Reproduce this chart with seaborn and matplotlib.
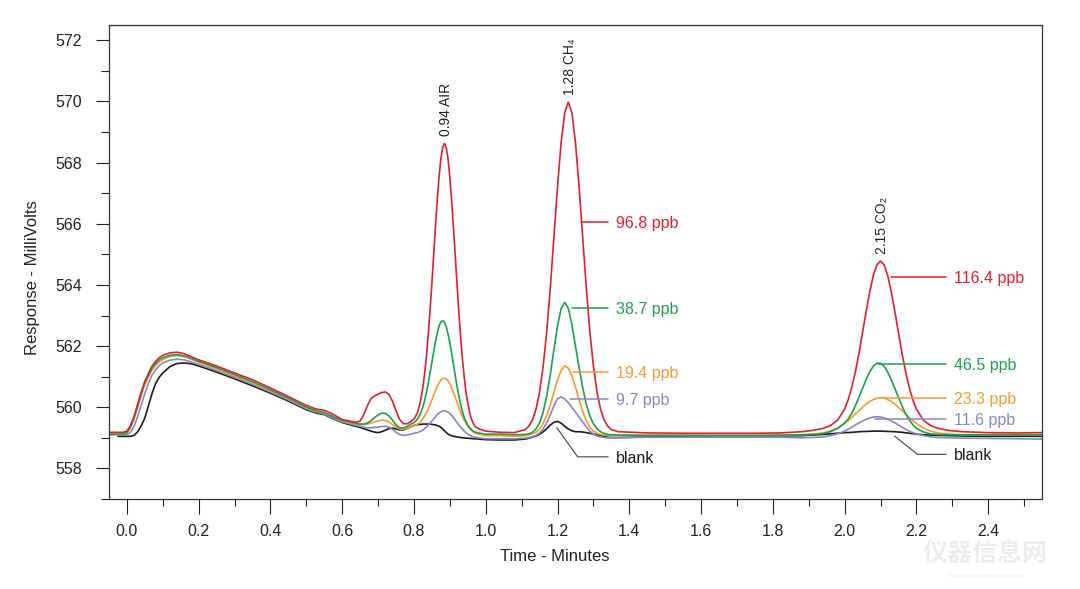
import numpy as np
import pandas as pd
import matplotlib
matplotlib.use("Agg")
import matplotlib.pyplot as plt
import seaborn as sns

# retention time grid (minutes), finer around the peaks
time_min = [
    -0.05, -0.025, -0.01, 0.00, 0.01, 0.02, 0.03, 0.04, 0.05, 0.06, 0.07, 0.08, 0.09, 0.10, 0.12, 0.14, 0.16, 0.18, 0.20,
    0.25, 0.30, 0.35, 0.40, 0.45, 0.50, 0.53, 0.55, 0.57, 0.60, 0.62, 0.64,
    0.65, 0.66, 0.67, 0.68, 0.69, 0.70, 0.71, 0.72, 0.73, 0.74, 0.75, 0.76, 0.77, 0.78, 0.79,
    0.800, 0.805, 0.810, 0.815, 0.820, 0.825, 0.830, 0.835, 0.840, 0.845, 0.850, 0.855, 0.860, 0.865, 0.870, 0.875,
    0.880, 0.885, 0.890, 0.895, 0.900, 0.905, 0.910, 0.915, 0.920, 0.925, 0.930, 0.935, 0.940, 0.945, 0.950, 0.955,
    0.960, 0.965, 0.970,
    0.98, 1.00,
    1.04, 1.08, 1.11, 1.12, 1.13, 1.14, 1.15, 1.16, 1.17, 1.18, 1.19, 1.20, 1.21, 1.22, 1.23, 1.24, 1.25, 1.26, 1.27,
    1.28, 1.29, 1.30, 1.31, 1.32, 1.33, 1.34, 1.35, 1.37,
    1.45, 1.55, 1.65, 1.75, 1.82,
    1.88, 1.91, 1.94, 1.96, 1.98, 2.00, 2.01, 2.02, 2.03, 2.04, 2.05, 2.06, 2.07, 2.08, 2.09, 2.10, 2.11, 2.12, 2.13,
    2.14, 2.15, 2.16, 2.17, 2.18, 2.19, 2.20, 2.22, 2.24, 2.26, 2.29, 2.33,
    2.40, 2.48, 2.55,
]

# response (mV) of each run
high_mv = [
    559.18, 559.18, 559.18, 559.22, 559.40, 559.70, 560.10, 560.50, 560.85, 561.10, 561.35, 561.50, 561.62, 561.70, 561.78, 561.80, 561.75, 561.65, 561.55,
    561.35, 561.12, 560.90, 560.63, 560.35, 560.06, 559.93, 559.90, 559.80, 559.60, 559.55, 559.51,
    559.55, 559.75, 560.05, 560.28, 560.37, 560.43, 560.48, 560.50, 560.42, 560.20, 559.88, 559.60, 559.46, 559.46, 559.52,
    559.62, 559.71, 559.84, 560.04, 560.31, 560.67, 561.14, 561.72, 562.42, 563.21, 564.08, 565.02, 565.94, 566.81, 567.55, 568.14,
    568.51, 568.63, 568.49, 568.11, 567.51, 566.75, 565.87, 564.93, 563.98, 563.09, 562.28, 561.57, 560.98, 560.49, 560.12, 559.83,
    559.62, 559.47, 559.37,
    559.30, 559.22,
    559.18, 559.17, 559.27, 559.38, 559.58, 559.93, 560.50, 561.34, 562.48, 563.93, 565.56, 567.22, 568.65, 569.63, 569.98, 569.63, 568.65, 567.22, 565.56,
    563.93, 562.48, 561.34, 560.50, 559.93, 559.58, 559.38, 559.27, 559.20,
    559.16, 559.15, 559.15, 559.15, 559.16,
    559.20, 559.24, 559.31, 559.40, 559.57, 559.94, 560.25, 560.65, 561.16, 561.76, 562.44, 563.13, 563.77, 564.31, 564.66, 564.78, 564.66, 564.31, 563.77,
    563.13, 562.44, 561.76, 561.16, 560.65, 560.25, 559.94, 559.57, 559.40, 559.31, 559.24, 559.20,
    559.17, 559.16, 559.17,
]
mid_mv = [
    559.12, 559.12, 559.12, 559.17, 559.36, 559.66, 560.05, 560.45, 560.80, 561.05, 561.28, 561.43, 561.55, 561.62, 561.70, 561.72, 561.68, 561.60, 561.50,
    561.30, 561.07, 560.84, 560.57, 560.30, 560.00, 559.87, 559.83, 559.72, 559.57, 559.52, 559.47,
    559.45, 559.45, 559.48, 559.56, 559.66, 559.75, 559.81, 559.80, 559.72, 559.58, 559.42, 559.33, 559.32, 559.37, 559.44,
    559.50, 559.55, 559.62, 559.72, 559.85, 560.02, 560.24, 560.50, 560.80, 561.13, 561.48, 561.83, 562.16, 562.44, 562.66, 562.79,
    562.83, 562.78, 562.63, 562.39, 562.10, 561.76, 561.39, 561.03, 560.68, 560.37, 560.09, 559.86, 559.67, 559.53, 559.41, 559.33,
    559.27, 559.22, 559.19,
    559.16, 559.12,
    559.12, 559.10, 559.11, 559.13, 559.18, 559.29, 559.49, 559.84, 560.38, 561.08, 561.89, 562.66, 563.22, 563.43, 563.24, 562.70, 562.00, 561.30, 560.65,
    560.10, 559.72, 559.46, 559.30, 559.20, 559.14, 559.11, 559.10, 559.09,
    559.08, 559.08, 559.08, 559.08, 559.09,
    559.10, 559.11, 559.14, 559.20, 559.30, 559.48, 559.62, 559.80, 560.05, 560.33, 560.62, 560.91, 561.16, 561.34, 561.44, 561.44, 561.34, 561.15, 560.90,
    560.61, 560.32, 560.04, 559.79, 559.59, 559.43, 559.31, 559.19, 559.13, 559.11, 559.10, 559.10,
    559.10, 559.10, 559.10,
]
low_mv = [
    559.12, 559.12, 559.12, 559.16, 559.33, 559.62, 560.00, 560.40, 560.74, 561.00, 561.22, 561.37, 561.48, 561.56, 561.66, 561.69, 561.65, 561.57, 561.47,
    561.26, 561.03, 560.80, 560.55, 560.28, 559.99, 559.86, 559.82, 559.72, 559.56, 559.50, 559.45,
    559.44, 559.43, 559.45, 559.48, 559.52, 559.55, 559.58, 559.57, 559.52, 559.44, 559.35, 559.29, 559.28, 559.31, 559.35,
    559.39, 559.42, 559.45, 559.49, 559.55, 559.63, 559.72, 559.83, 559.96, 560.10, 560.25, 560.40, 560.55, 560.69, 560.80, 560.89,
    560.94, 560.95, 560.92, 560.86, 560.76, 560.63, 560.48, 560.32, 560.16, 559.99, 559.84, 559.70, 559.57, 559.47, 559.38, 559.30,
    559.25, 559.20, 559.16,
    559.12, 559.07,
    559.07, 559.05, 559.07, 559.10, 559.13, 559.18, 559.29, 559.47, 559.74, 560.09, 560.50, 560.90, 561.20, 561.35, 561.28, 561.04, 560.66, 560.25, 559.87,
    559.57, 559.35, 559.22, 559.15, 559.11, 559.09, 559.08, 559.08, 559.08,
    559.08, 559.08, 559.07, 559.07, 559.08,
    559.10, 559.12, 559.16, 559.22, 559.32, 559.47, 559.56, 559.67, 559.78, 559.89, 560.00, 560.10, 560.19, 560.25, 560.30, 560.31, 560.30, 560.25, 560.19,
    560.10, 560.00, 559.89, 559.78, 559.67, 559.56, 559.47, 559.32, 559.22, 559.16, 559.12, 559.10,
    559.10, 559.10, 559.10,
]
lowest_mv = [
    559.10, 559.10, 559.10, 559.10, 559.18, 559.38, 559.70, 560.08, 560.45, 560.78, 561.05, 561.23, 561.36, 561.45, 561.54, 561.57, 561.55, 561.48, 561.40,
    561.20, 560.98, 560.75, 560.50, 560.24, 559.95, 559.83, 559.78, 559.67, 559.52, 559.46, 559.40,
    559.38, 559.35, 559.33, 559.33, 559.34, 559.35, 559.37, 559.38, 559.35, 559.28, 559.18, 559.11, 559.08, 559.09, 559.12,
    559.15, 559.16, 559.17, 559.20, 559.22, 559.26, 559.30, 559.36, 559.42, 559.48, 559.55, 559.62, 559.69, 559.76, 559.81, 559.85,
    559.88, 559.88, 559.87, 559.84, 559.79, 559.73, 559.66, 559.58, 559.50, 559.42, 559.35, 559.28, 559.22, 559.17, 559.12, 559.09,
    559.06, 559.04, 559.02,
    559.00, 558.97,
    558.97, 558.97, 558.99, 559.01, 559.03, 559.08, 559.16, 559.30, 559.50, 559.75, 560.05, 560.28, 560.34, 560.27, 560.15, 560.00, 559.84, 559.68, 559.52,
    559.36, 559.22, 559.12, 559.06, 559.03, 559.01, 559.00, 559.00, 559.00,
    559.02, 559.02, 559.02, 559.02, 559.02,
    559.00, 559.01, 559.03, 559.07, 559.13, 559.22, 559.28, 559.35, 559.42, 559.49, 559.55, 559.61, 559.65, 559.68, 559.69, 559.68, 559.65, 559.61, 559.55,
    559.49, 559.42, 559.35, 559.28, 559.22, 559.17, 559.13, 559.07, 559.03, 559.01, 559.00, 558.99,
    558.98, 558.97, 558.96,
]
blank_mv = [
    np.nan, 559.05, 559.05, 559.05, 559.05, 559.08, 559.20, 559.40, 559.65, 560.05, 560.45, 560.78, 560.98, 561.12, 561.33, 561.43, 561.45, 561.42, 561.35,
    561.15, 560.93, 560.70, 560.46, 560.20, 559.92, 559.80, 559.76, 559.65, 559.50, 559.43, 559.37,
    559.34, 559.30, 559.26, 559.22, 559.19, 559.17, 559.20, 559.25, 559.30, 559.32, 559.29, 559.26, 559.26, 559.30, 559.36,
    559.40, 559.42, 559.43, 559.44, 559.44, 559.45, 559.45, 559.45, 559.45, 559.45, 559.44, 559.43, 559.42, 559.40, 559.38, 559.34,
    559.29, 559.23, 559.17, 559.12, 559.09, 559.07, 559.05, 559.04, 559.03, 559.02, 559.01, 559.00, 559.00, 558.99, 558.99, 558.98,
    558.98, 558.97, 558.97,
    558.96, 558.94,
    558.93, 558.93, 558.96, 558.99, 559.02, 559.06, 559.12, 559.20, 559.30, 559.42, 559.51, 559.54, 559.48, 559.38, 559.29, 559.23, 559.20, 559.20, 559.19,
    559.17, 559.15, 559.12, 559.10, 559.07, 559.04, 559.02, 559.01, 559.01,
    559.03, 559.04, 559.04, 559.05, 559.06,
    559.07, 559.09, 559.11, 559.13, 559.15, 559.17, 559.175, 559.18, 559.19, 559.20, 559.205, 559.21, 559.215, 559.22, 559.22, 559.22, 559.215, 559.21, 559.205,
    559.20, 559.19, 559.18, 559.165, 559.15, 559.135, 559.12, 559.10, 559.09, 559.08, 559.07, 559.06,
    559.05, 559.05, 559.05,
]

series_names = ["blank", "lowest", "low", "mid", "high"]
series_colors = ["#1c1c1c", "#8787c8", "#f59a2c", "#19a24b", "#e3202b"]

# peak labels
peak_names = ["0.94 AIR", "1.28 CH\u2084", "2.15 CO\u2082"]
peak_times = [0.886, 1.23, 2.10]

# concentration labels, top to bottom (high, mid, low, lowest, blank)
ch4_text = ["96.8 ppb", "38.7 ppb", "19.4 ppb", "9.7 ppb", "blank"]
co2_text = ["116.4 ppb", "46.5 ppb", "23.3 ppb", "11.6 ppb", "blank"]

sns.set_theme(style="white")
plt.rcParams["font.family"] = ["Liberation Sans", "DejaVu Sans"]

df = pd.DataFrame({"time": time_min, "high": high_mv, "mid": mid_mv, "low": low_mv,
                   "lowest": lowest_mv, "blank": blank_mv})
long_df = df.melt(id_vars="time", var_name="trace", value_name="mv").dropna()

fig, ax = plt.subplots(figsize=(10.8, 5.89), dpi=100)
fig.subplots_adjust(left=0.1009, right=0.9648, top=0.9576, bottom=0.1528)

sns.lineplot(data=long_df, x="time", y="mv", hue="trace", hue_order=series_names,
             palette=series_colors, estimator=None, sort=False, legend=False,
             linewidth=1.2, ax=ax)

ax.set_xlim(-0.05, 2.55)
ax.set_ylim(557.0, 572.5)
ax.set_xticks(np.arange(0, 2.41, 0.2))
ax.set_xticklabels([f"{v:.1f}" for v in np.arange(0, 2.41, 0.2)])
ax.set_xticks(np.arange(0.1, 2.51, 0.2), minor=True)
ax.set_yticks(np.arange(558, 572.1, 2))
ax.set_yticks(np.arange(557, 572, 2), minor=True)

ax.tick_params(axis="x", which="major", length=11, width=0.8, pad=7, labelsize=11.5, colors="#222222")
ax.tick_params(axis="x", which="minor", length=5.3, width=0.8, colors="#222222")
ax.tick_params(axis="y", which="major", length=9.6, width=0.8, pad=10, labelsize=11.5, colors="#222222")
ax.tick_params(axis="y", which="minor", length=6, width=0.8, colors="#222222")
ax.tick_params(which="both", direction="out", bottom=True, left=True)
for sp in ax.spines.values():
    sp.set_color("#333333")
    sp.set_linewidth(0.9)

ax.set_xlabel("Time - Minutes", fontsize=12, color="#222222")
ax.set_ylabel("Response - MilliVolts", fontsize=12, color="#222222")
ax.xaxis.set_label_coords(0.478, -0.105)
ax.yaxis.set_label_coords(-0.074, 0.466)

# rotated peak names above the tallest trace
for name, t in zip(peak_names, peak_times):
    near = df[(df["time"] > t - 0.03) & (df["time"] < t + 0.03)]
    top = near["high"].max()
    ax.annotate(name, xy=(t, top), xytext=(1, 5), textcoords="offset points",
                rotation=90, ha="center", va="bottom", fontsize=10, color="#222222")

# leader lines and ppb labels
label_colors = ["#e3202b", "#19a24b", "#f59a2c", "#8787c8", "#1c1c1c"]
ch4_start = [(1.266, 566.06), (1.239, 563.26), (1.243, 561.16), (1.234, 560.28), (1.198, 559.33)]
ch4_y = [566.06, 563.26, 561.16, 560.28, 558.38]
co2_start = [(2.13, 564.27), (2.093, 561.42), (2.10, 560.31), (2.084, 559.63), (2.139, 559.06)]
co2_y = [564.27, 561.42, 560.31, 559.63, 558.46]

for starts, ys, texts, x_end, x_text, x_kink in [
        (ch4_start, ch4_y, ch4_text, 1.341, 1.362, 1.256),
        (co2_start, co2_y, co2_text, 2.283, 2.304, 2.203)]:
    for (x0, y0), y1, txt, col in zip(starts, ys, texts, label_colors):
        if txt == "blank":
            ax.plot([x0, x_kink, x_end], [y0, y1, y1], color="#555555", lw=0.9)
        else:
            ax.plot([x0, x_end], [y0, y1], color=col, lw=1.1)
        ax.text(x_text, y1, txt, color=col, fontsize=11.5, va="center_baseline", ha="left")

# faint watermark
fig.text(0.912, 0.058, "仪器信息网", fontsize=18, color="#ececf0", ha="center", va="center",
         family=["Noto Sans CJK SC", "DejaVu Sans"], fontweight="bold")
fig.text(0.912, 0.022, "www.instrument.com.cn", fontsize=5, color="#ececf0", ha="center", va="center")

fig.savefig("out.png", dpi=100)
